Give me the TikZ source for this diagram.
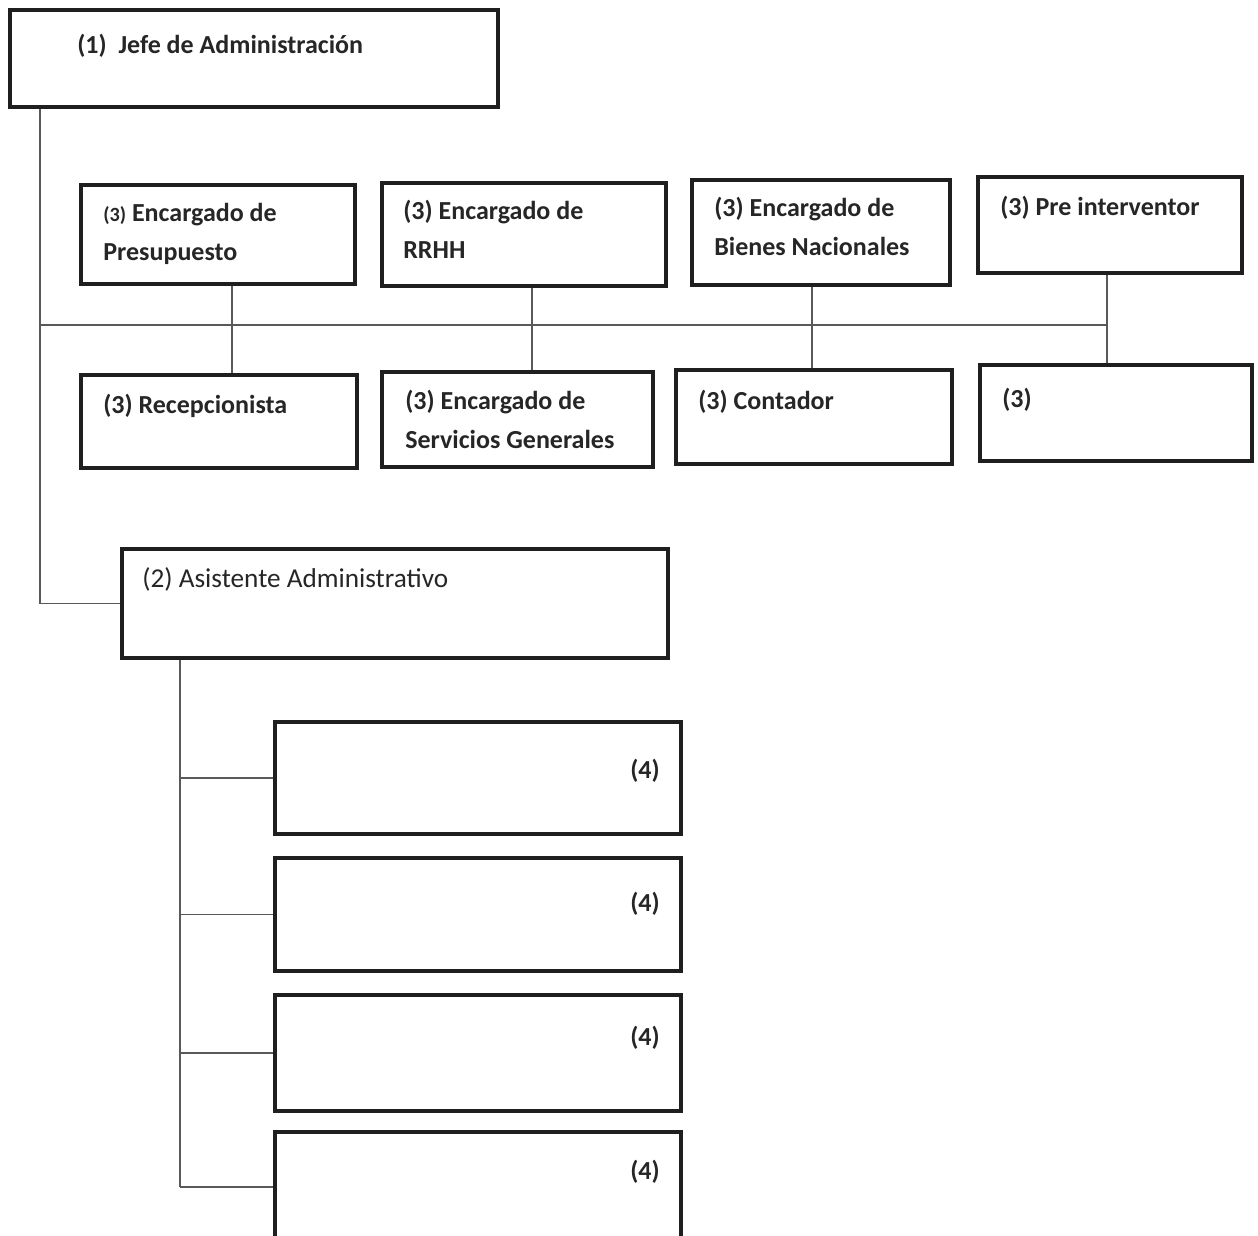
\documentclass[tikz,border=0pt]{standalone}
\usepackage{fontspec}
\setmainfont{Carlito}
\usetikzlibrary{fit}
\begin{document}
\begin{tikzpicture}[x=0.02cm,y=-0.02cm,
  box/.style={draw=black!88, line width=2pt, fill=white, rectangle, inner sep=0pt},
  lbl/.style={anchor=base west, inner sep=0pt, font=\fontsize{14.8}{17}\selectfont\bfseries, text=black!85},
  lblr/.style={lbl, anchor=base east},
  plain/.style={lbl, font=\fontsize{15.5}{18}\selectfont},
  link/.style={draw=black!65, line width=0.8pt}]
\clip (0,0) rectangle (1258,1236);
\fill[white] (0,0) rectangle (1258,1236);

% boxes
\node[box, fit={(10,10) (498,107)}] (jefe) {};
\node[box, fit={(81,185) (355,284)}] (pres) {};
\node[box, fit={(382,183) (666,286)}] (rrhh) {};
\node[box, fit={(692,180) (950,285)}] (bien) {};
\node[box, fit={(978,177) (1242,273)}] (inter) {};
\node[box, fit={(81,375) (357,468)}] (recep) {};
\node[box, fit={(382,372) (653,467)}] (serv) {};
\node[box, fit={(676,370) (952,464)}] (cont) {};
\node[box, fit={(980,365) (1252,461)}] (otro) {};
\node[box, fit={(122,549) (668,658)}] (asis) {};
\node[box, fit={(275,722) (681,834)}] (fa) {};
\node[box, fit={(275,858) (681,971)}] (fb) {};
\node[box, fit={(275,995) (681,1111)}] (fc) {};
\node[box, fit={(275,1132) (681,1242)}] (fd) {};

% labels
\node[lbl] (tjefe) at (77,54) {(1)\ \ Jefe de Administración};
\node[lbl] (tpres1) at (103,222) {{\fontsize{11.5}{13}\selectfont(3)} Encargado de};
\node[lbl] (tpres2) at (103,261) {Presupuesto};
\node[lbl] (trrhh1) at (403,220) {(3) Encargado de};
\node[lbl] (trrhh2) at (403,259) {RRHH};
\node[lbl] (tbien1) at (714,217) {(3) Encargado de};
\node[lbl] (tbien2) at (714,256) {Bienes Nacionales};
\node[lbl] (tinter) at (1000,216) {(3) Pre interventor};
\node[lbl] (trecep) at (103,414) {(3) Recepcionista};
\node[lbl] (tserv1) at (405,410) {(3) Encargado de};
\node[lbl] (tserv2) at (405,449) {Servicios Generales};
\node[lbl] (tcont) at (698,410) {(3) Contador};
\node[lbl] (totro) at (1002,408) {(3)};
\node[plain] (tasis) at (142,588) {(2) Asistente Administrativo};
\node[lblr] (tfa) at (660,778) {(4)};
\node[lblr] (tfb) at (660,911) {(4)};
\node[lblr] (tfc) at (660,1045) {(4)};
\node[lblr] (tfd) at (660,1179) {(4)};

% connectors
\coordinate (trunk) at (40,325);
\coordinate (c1) at (232,325);
\coordinate (c2) at (532,325);
\coordinate (c3) at (812,325);
\coordinate (c4) at (1107,325);
\coordinate (spine) at (180,700);

\draw[link] (trunk |- jefe.south) |- (asis.west);
\draw[link] (trunk) -- (c4);
\draw[link] (c1 |- pres.south) -- (c1 |- recep.north);
\draw[link] (c2 |- rrhh.south) -- (c2 |- serv.north);
\draw[link] (c3 |- bien.south) -- (c3 |- cont.north);
\draw[link] (c4 |- inter.south) -- (c4 |- otro.north);

\draw[link] (spine |- asis.south) -- (spine |- fd.west);
\draw[link] (spine |- fa.west) -- (fa.west);
\draw[link] (spine |- fb.west) -- (fb.west);
\draw[link] (spine |- fc.west) -- (fc.west);
\draw[link] (spine |- fd.west) -- (fd.west);
\end{tikzpicture}
\end{document}
